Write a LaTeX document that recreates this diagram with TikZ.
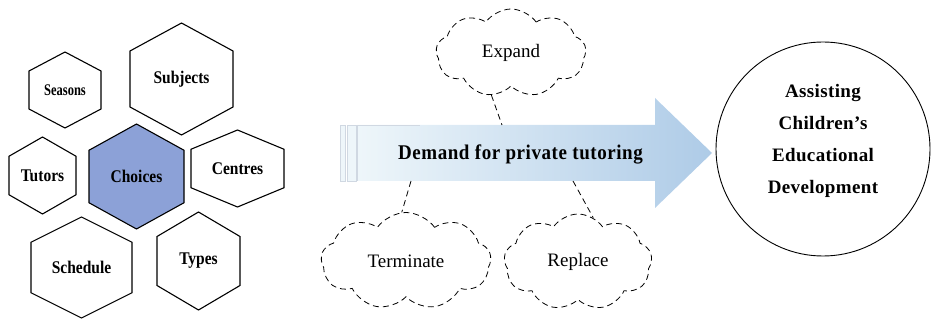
\documentclass[tikz,border=0pt]{standalone}
\usepackage{fontspec}
\usepackage{graphicx}
\setmainfont{Liberation Serif}
\usetikzlibrary{shapes.symbols, calc}

\definecolor{choiceblue}{RGB}{140,161,215}
\definecolor{arrowpale}{RGB}{238,246,250}
\definecolor{arrowmid}{RGB}{212,229,243}
\definecolor{arrowblue}{RGB}{174,203,231}
\definecolor{stripegrey}{RGB}{208,216,226}

% taller lettering, as in the source figure
\newcommand{\tall}[2][1.15]{\scalebox{1}[#1]{#2}}

% pointy-top hexagon with a label: [fill]{name}{cx}{cy}{width}{height}{label}
\newcommand{\hexcell}[7][white]{%
    \draw[hexline, fill=#1] (#3,#4-#6/2) -- (#3+#5/2,#4-#6/4) -- (#3+#5/2,#4+#6/4)
        -- (#3,#4+#6/2) -- (#3-#5/2,#4+#6/4) -- (#3-#5/2,#4-#6/4) -- cycle;
    \node[hexlabel] (#2) at (#3,#4) {#7};
}

\begin{document}
\begin{tikzpicture}[
        x=1pt, y=-1pt,
        hexline/.style={draw=black, line width=1.1pt, line join=miter},
        hexlabel/.style={font=\bfseries\fontsize{15.5}{18}\selectfont, inner sep=0pt},
        puff/.style={cloud, cloud puffs=9, cloud puff arc=110, cloud ignores aspect,
            draw, dash pattern=on 6pt off 4pt, line width=0.8pt, inner sep=0pt,
            font=\fontsize{19}{22}\selectfont},
        link/.style={draw, dash pattern=on 6pt off 4pt, line width=0.8pt},
        goal/.style={circle, draw, line width=0.9pt, minimum size=214pt, inner sep=0pt},
        goaltext/.style={align=center, inner sep=0pt,
            font=\bfseries\fontsize{19}{32}\selectfont\addfontfeature{LetterSpace=2}}
    ]
        \useasboundingbox (0,0) rectangle (931,320);

        % choices cluster
        \hexcell{seasons}{65}{90}{72}{76}{\tall[1.3]{\fontsize{12.5}{14}\selectfont Seasons}}
        \hexcell{subjects}{181.5}{79}{103}{112}{\tall{Subjects}}
        \hexcell{tutors}{42.5}{175.5}{67}{77}{\tall{Tutors}}
        \hexcell[choiceblue]{choices}{136.5}{176.5}{95}{105}{\tall{Choices}}
        \hexcell{centres}{237.5}{168.5}{93}{77}{\tall{Centres}}
        \hexcell{schedule}{81.5}{267.5}{101}{101}{\tall{Schedule}}
        \hexcell{types}{198.5}{261}{83}{98}{\tall{Types}}

        % demand arrow
        \filldraw[draw=stripegrey, fill=arrowpale, line width=0.6pt] (340.7,125) rectangle (345.3,181);
        \filldraw[draw=stripegrey, fill=arrowpale, line width=0.6pt] (347.7,125) rectangle (356,181);
        \shade[left color=arrowpale, middle color=arrowmid, right color=arrowblue]
            (357,125) -- (655,125) -- (655,98) -- (712,153) -- (655,208) -- (655,181) -- (357,181) -- cycle;
        \draw[stripegrey, line width=0.6pt] (357,181) -- (357,125) -- (420,125);
        \node[font=\bfseries\fontsize{19}{22}\selectfont\addfontfeature{LetterSpace=3}] (demand)
            at (520.5,154) {\tall[1.1]{Demand for private tutoring}};
        \coordinate (expandfoot) at (502,125);
        \coordinate (terminatefoot) at (411,181);
        \coordinate (replacefoot) at (573,181);

        % clouds
        \node[puff, minimum width=150pt, minimum height=88pt] (expand) at (511,53) {Expand};
        \node[puff, minimum width=170pt, minimum height=97pt] (terminate) at (406,261) {Terminate};
        \node[puff, minimum width=148pt, minimum height=96pt] (replace) at (578,262) {Replace};
        \draw[link] (expand.245) -- (expandfoot);
        \draw[link] (terminatefoot) -- (terminate.95);
        \draw[link] (replacefoot) -- (replace.71);

        % outcome
        \node[goal] (outcome) at (823,149) {};
        \node[goaltext] (outcometext) at ($(outcome.center)+(0,-8)$)
            {Assisting\\Children’s\\Educational\\Development};
    \end{tikzpicture}
\end{document}
